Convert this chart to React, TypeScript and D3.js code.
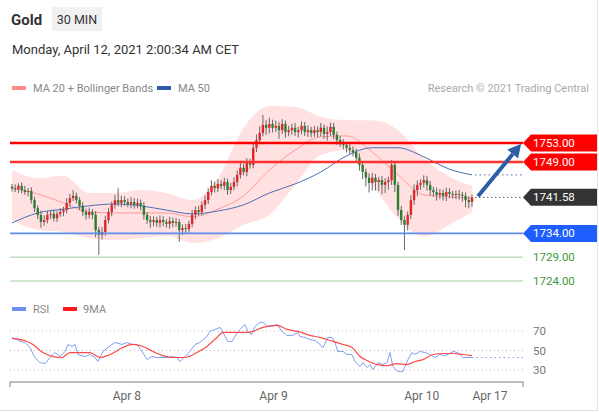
import React from 'react';
import * as d3 from 'd3';

// ---------- DATA ----------
const firstOpen = 1743.8;
const closes = [
  1743.5, 1743.3, 1744.0, 1743.1, 1742.7, 1742.9, 1741.0, 1739.3, 1737.9, 1736.4, 1736.8, 1737.9,
  1738.1, 1737.2, 1738.1, 1738.5, 1738.9, 1740.4, 1741.4, 1741.9, 1741.0, 1739.8, 1738.5, 1737.9,
  1738.5, 1737.9, 1734.7, 1733.7, 1734.3, 1736.8, 1738.5, 1740.0, 1741.0, 1740.4, 1741.0, 1740.6,
  1740.2, 1740.6, 1740.0, 1740.4, 1739.8, 1737.9, 1736.8, 1736.4, 1736.8, 1736.2, 1736.8, 1736.4,
  1736.0, 1736.6, 1736.2, 1736.4, 1734.7, 1735.1, 1734.9, 1736.0, 1737.9, 1738.9, 1738.5, 1740.0,
  1741.0, 1742.7, 1744.0, 1743.5, 1744.4, 1744.0, 1744.8, 1743.1, 1743.8, 1744.8, 1746.3, 1747.8,
  1746.9, 1748.8, 1748.4, 1752.0, 1753.6, 1755.1, 1756.8, 1756.2, 1757.0, 1756.2, 1756.6, 1755.7,
  1757.0, 1755.3, 1755.7, 1756.2, 1755.3, 1755.7, 1756.6, 1755.3, 1755.7, 1755.1, 1755.7, 1755.3,
  1756.2, 1754.9, 1755.3, 1756.4, 1754.7, 1753.6, 1753.0, 1752.6, 1752.0, 1751.5, 1751.1, 1749.9,
  1748.4, 1746.9, 1745.7, 1744.6, 1745.7, 1744.8, 1745.2, 1744.2, 1744.8, 1745.2, 1748.4, 1744.2,
  1738.9, 1736.8, 1735.8, 1737.9, 1741.0, 1743.1, 1744.2, 1744.6, 1745.2, 1744.2, 1743.1, 1742.7,
  1742.1, 1742.5, 1741.9, 1742.7, 1742.3, 1742.1, 1742.3, 1742.1, 1741.9, 1741.0, 1740.6, 1741.58,
];
const wickUp = [
  0.6, 0.8, 0.5, 0.7, 0.9, 0.6, 0.8, 0.7, 0.6, 0.9, 1.0, 0.8,
  0.7, 0.9, 0.6, 0.8, 0.7, 1.0, 0.9, 1.2, 0.7, 0.6, 0.8, 0.7,
  0.9, 0.6, 0.8, 0.7, 1.0, 0.9, 0.8, 0.7, 1.1, 2.5, 0.9, 0.8,
  0.7, 1.0, 0.8, 0.9, 0.7, 0.8, 0.6, 0.9, 0.8, 0.7, 1.0, 0.8,
  0.6, 0.9, 0.7, 0.8, 0.6, 0.8, 0.9, 0.7, 1.0, 0.8, 0.9, 0.7,
  1.0, 0.8, 1.2, 0.9, 1.0, 0.8, 0.9, 0.7, 0.8, 1.0, 0.9, 1.2,
  0.8, 1.0, 0.9, 1.0, 1.2, 1.4, 2.1, 1.0, 1.3, 0.9, 1.1, 0.8,
  1.0, 0.7, 0.9, 0.8, 1.0, 0.7, 0.9, 0.8, 1.0, 0.7, 0.9, 0.8,
  1.0, 0.7, 1.2, 0.9, 0.8, 0.7, 0.9, 0.8, 0.7, 0.9, 0.8, 0.7,
  0.9, 0.8, 0.7, 0.9, 1.0, 0.8, 0.7, 0.9, 0.8, 0.7, 1.0, 0.8,
  0.7, 0.9, 0.8, 0.7, 1.0, 1.2, 0.9, 0.8, 1.0, 0.9, 0.8, 0.7,
  0.9, 0.8, 0.7, 0.9, 0.8, 0.6, 0.7, 0.8, 0.6, 0.7, 0.8, 0.6,
];
const wickDown = [
  0.7, 0.6, 0.8, 0.7, 0.6, 0.9, 0.7, 0.8, 0.9, 1.2, 0.8, 0.7,
  0.9, 0.7, 0.8, 0.6, 0.9, 0.7, 0.8, 0.6, 0.7, 0.9, 0.8, 1.0,
  0.8, 0.9, 1.5, 4.2, 1.0, 0.8, 0.7, 0.9, 0.8, 0.7, 0.9, 0.8,
  0.7, 0.9, 0.8, 0.7, 0.9, 1.0, 0.8, 1.2, 0.9, 0.8, 1.0, 0.9,
  0.8, 1.0, 0.9, 0.8, 2.5, 1.0, 0.9, 0.8, 0.7, 0.9, 0.8, 0.7,
  0.9, 0.8, 0.7, 0.9, 0.8, 0.7, 0.9, 1.0, 0.8, 0.7, 0.9, 0.8,
  0.7, 0.9, 0.8, 0.7, 0.9, 0.8, 0.7, 1.5, 1.2, 1.0, 0.9, 1.8,
  0.8, 1.2, 0.9, 1.0, 0.8, 1.1, 0.9, 0.8, 1.0, 0.9, 0.8, 1.1,
  0.9, 1.0, 1.4, 0.8, 0.9, 1.0, 0.8, 0.9, 1.0, 0.8, 0.9, 1.0,
  1.2, 1.5, 1.8, 2.0, 1.6, 1.8, 1.9, 2.0, 1.7, 1.6, 1.0, 1.5,
  1.2, 1.0, 5.3, 1.2, 0.9, 1.0, 1.3, 1.0, 0.9, 1.2, 1.1, 1.0,
  1.2, 0.9, 1.0, 1.1, 0.9, 0.8, 0.9, 1.0, 1.2, 1.5, 1.3, 1.0,
];

// indicator samples (candle index -> value)
const indIdx = [0, 8, 16, 24, 32, 40, 48, 56, 64, 72, 80, 88, 96, 104, 112, 120, 128, 136, 143];
const ma20 = [1743.5, 1742.3, 1740.4, 1738.5, 1738.3, 1738.3, 1738.3, 1737.5, 1739.1, 1741.9, 1747.3, 1751.5, 1754.3, 1754.5, 1751.1, 1746.3, 1742.1, 1741.7, 1741.4];
const bbUpper = [1747.3, 1745.6, 1746.1, 1742.5, 1742.5, 1743.1, 1742.5, 1741.0, 1745.6, 1756.2, 1760.8, 1760.6, 1758.5, 1757.8, 1757.8, 1755.7, 1749.8, 1745.9, 1744.0];
const bbLower = [1736.8, 1734.7, 1734.3, 1733.0, 1732.6, 1733.0, 1733.5, 1732.0, 1733.0, 1735.8, 1737.9, 1744.2, 1750.5, 1751.5, 1744.2, 1737.2, 1733.3, 1735.8, 1738.5];
const ma50 = [1736.2, 1738.3, 1739.1, 1739.8, 1740.2, 1739.8, 1738.9, 1738.1, 1738.7, 1740.0, 1742.5, 1744.4, 1746.9, 1750.3, 1752.0, 1752.0, 1750.1, 1747.5, 1746.3];

const rsiIdx = [0, 2.5, 4.0, 5.6, 7.1, 8.7, 10.3, 11.8, 13.4, 14.9, 16.5, 17.4, 18.7, 19.6, 20.5, 22.7, 24.2, 25.8, 26.7, 28.3, 29.8, 32.0, 34.2, 35.7, 37.3, 38.9, 40.4, 42.0, 43.5, 45.1, 46.6, 48.2, 49.7, 51.3, 52.2, 53.8, 55.3, 56.9, 58.4, 60.6, 61.5, 63.1, 64.7, 65.6, 67.1, 68.4, 69.3, 70.9, 72.4, 73.4, 74.6, 75.5, 77.1, 78.0, 79.3, 80.8, 82.4, 83.9, 85.5, 87.3, 88.9, 89.5, 91.1, 92.6, 94.2, 95.7, 96.7, 98.2, 99.5, 100.4, 101.3, 102.9, 104.1, 105.7, 106.6, 108.2, 109.1, 110.4, 111.3, 112.2, 113.8, 115.3, 116.6, 117.5, 118.4, 120.0, 121.5, 123.1, 124.3, 125.3, 126.8, 128.4, 129.9, 131.5, 133.0, 134.6, 135.5, 137.1, 138.6, 140.2, 141.7, 143];
const rsiVal = [63.1, 59.6, 58.2, 53.1, 42.8, 37.6, 36.6, 42.8, 47.9, 43.8, 49.0, 56.2, 54.1, 56.2, 45.9, 43.8, 45.9, 42.8, 38.7, 49.0, 53.1, 58.2, 56.2, 58.2, 56.2, 56.2, 49.0, 40.7, 43.8, 42.8, 42.8, 42.8, 43.8, 42.8, 38.7, 43.8, 49.0, 56.2, 58.2, 64.4, 69.6, 71.6, 73.7, 68.6, 59.3, 59.3, 64.4, 71.6, 76.8, 68.6, 66.5, 74.7, 78.9, 78.9, 74.7, 74.7, 76.8, 69.6, 65.5, 65.5, 68.6, 64.4, 63.4, 61.3, 60.3, 56.2, 53.1, 63.4, 63.4, 58.2, 49.0, 49.0, 45.9, 45.9, 38.7, 33.5, 37.6, 32.5, 35.6, 30.4, 37.6, 35.6, 37.6, 47.9, 33.5, 28.4, 28.4, 40.7, 47.9, 45.9, 49.0, 47.9, 45.9, 42.8, 45.9, 44.8, 45.9, 49.0, 47.9, 42.8, 42.8, 42.8];
const rsiMaIdx = [0, 4.7, 6.5, 9.6, 12.7, 15.5, 18.0, 21.1, 24.2, 27.4, 30.5, 34.5, 37.6, 40.7, 43.8, 46.9, 50.0, 53.8, 57.5, 60.6, 63.7, 65.6, 68.7, 73.0, 74.9, 78.0, 82.4, 85.5, 88.9, 92.6, 95.7, 99.8, 102.9, 105.7, 108.2, 110.4, 113.5, 116.6, 119.7, 122.8, 125.3, 127.8, 130.9, 134.0, 137.1, 140.2, 143];
const rsiMaVal = [62.4, 59.3, 56.2, 47.9, 43.8, 42.8, 47.9, 47.9, 47.9, 42.8, 45.9, 53.1, 56.2, 54.1, 49.0, 44.8, 42.8, 42.8, 47.9, 54.1, 63.4, 68.6, 68.6, 68.6, 69.6, 73.7, 75.8, 71.6, 69.6, 65.5, 63.4, 59.3, 56.2, 53.1, 43.8, 39.7, 35.6, 34.5, 36.6, 35.6, 38.7, 40.7, 45.9, 46.9, 46.9, 45.9, 44.8];

const resistances = [1753, 1749];
const supports = [1734, 1729, 1724];
const lastPrice = 1741.58;
const targetPrice = 1752.8;
const xTickLabels = ['Apr 8', 'Apr 9', 'Apr 10', 'Apr 17'];
const xTickIdx = [35.7, 81.3, 127.4, 148.6];
const rsiTicks = [70, 50, 30];

// ---------- LAYOUT ----------
const W = 599, H = 413;
const L = 10, R = 523;
const FONT = 'Roboto, Arial, sans-serif';

export default function App() {
  const x = d3.scaleLinear().domain([0, 143]).range([12, 472]);
  const y = d3.scaleLinear().domain([1724, 1753]).range([281, 143]);
  const ry = d3.scaleLinear().domain([30, 70]).range([370, 331]);

  const idxs = indIdx.map((_, i) => i);
  const band = d3.area<number>()
    .x((i) => x(indIdx[i]))
    .y0((i) => y(bbLower[i]))
    .y1((i) => y(bbUpper[i]))
    .curve(d3.curveMonotoneX);
  const line = (vals: number[]) =>
    d3.line<number>().x((i) => x(indIdx[i])).y((i) => y(vals[i])).curve(d3.curveMonotoneX)(idxs) || '';

  const rsiLine = d3.line<number>().x((i) => x(rsiIdx[i])).y((i) => ry(rsiVal[i]))(rsiIdx.map((_, i) => i)) || '';
  const rsiMaLine = d3.line<number>().x((i) => x(rsiMaIdx[i])).y((i) => ry(rsiMaVal[i])).curve(d3.curveMonotoneX)(rsiMaIdx.map((_, i) => i)) || '';

  const candles = closes.map((c, i) => {
    const o = i === 0 ? firstOpen : closes[i - 1];
    const hi = Math.max(o, c) + wickUp[i];
    const lo = Math.min(o, c) - wickDown[i];
    return { o, c, hi, lo, i };
  });

  const tag = (cy: number) => `M${R},${cy} L${R + 8},${cy - 8.5} L597,${cy - 8.5} L597,${cy + 8.5} L${R + 8},${cy + 8.5} Z`;

  const lastY = y(lastPrice);
  const ma50Last = y(ma50[ma50.length - 1]);
  const ax0 = x(143) + 6, ay0 = lastY - 1;
  const ax1 = 521, ay1 = y(targetPrice);
  const ang = Math.atan2(ay1 - ay0, ax1 - ax0);
  const hl = 13, hw = 7;
  const bx = ax1 - hl * Math.cos(ang), by = ay1 - hl * Math.sin(ang);
  const head = `M${ax1},${ay1} L${bx + hw * Math.sin(ang)},${by - hw * Math.cos(ang)} L${bx - hw * Math.sin(ang)},${by + hw * Math.cos(ang)} Z`;

  return (
    <div style={{ position: 'fixed', left: 0, top: 0, width: W, height: H, background: '#fff' }}>
      <svg width={W} height={H} style={{ display: 'block', fontFamily: FONT }}>
        <rect x={0} y={0} width={W} height={H} fill="#fff" />
        {/* borders */}
        <line x1={597.5} y1={0} x2={597.5} y2={411} stroke="#e6e6e6" />
        <line x1={0} y1={410.5} x2={598} y2={410.5} stroke="#e0e0e0" />

        {/* header */}
        <text x={11} y={25} fontSize={15} fontWeight={700} fill="#333">Gold</text>
        <rect x={52} y={7} width={50} height={24} fill="#f1f1f1" />
        <text x={77} y={24} fontSize={12.5} fill="#333" textAnchor="middle">30 MIN</text>
        <text x={12} y={54} fontSize={13} fill="#333">Monday, April 12, 2021 2:00:34 AM CET</text>

        {/* legend */}
        <rect x={12} y={86} width={14} height={4} fill="#ff8a8a" />
        <text x={33} y={92} fontSize={11} fill="#888">MA 20 + Bollinger Bands</text>
        <rect x={157} y={86} width={14} height={4} fill="#2f5ba8" />
        <text x={178} y={92} fontSize={11} fill="#888">MA 50</text>
        <text x={589} y={92} fontSize={11} fill="#aaa" textAnchor="end">Research © 2021 Trading Central</text>

        {/* bollinger */}
        <path d={band(idxs) || ''} fill="#ffe1e1" />
        <path d={line(ma20)} fill="none" stroke="#ff9a9a" strokeWidth={1} />
        <path d={line(ma50)} fill="none" stroke="#4a6fb8" strokeWidth={1} />
        <line x1={x(143) + 3} x2={R} y1={ma50Last} y2={ma50Last} stroke="#4a6fb8" strokeDasharray="1.5,3" />

        {/* candles */}
        {candles.map((d) => (
          <g key={d.i}>
            <line x1={x(d.i)} x2={x(d.i)} y1={y(d.hi)} y2={y(d.lo)} stroke="#666" strokeWidth={1} />
            <rect
              x={x(d.i) - 1.2}
              width={2.4}
              y={y(Math.max(d.o, d.c))}
              height={Math.max(1, Math.abs(y(d.o) - y(d.c)))}
              fill={d.c >= d.o ? '#e0262b' : '#2e7d32'}
            />
          </g>
        ))}

        {/* levels */}
        <line x1={L} x2={R} y1={y(resistances[0])} y2={y(resistances[0])} stroke="#ff0000" strokeWidth={2.5} />
        <line x1={L} x2={R} y1={y(resistances[1])} y2={y(resistances[1])} stroke="#ff3030" strokeWidth={2.5} />
        <line x1={L} x2={R} y1={y(supports[0])} y2={y(supports[0])} stroke="#5b8def" strokeWidth={1.8} />
        <line x1={L} x2={R} y1={y(supports[1])} y2={y(supports[1])} stroke="#bfe0bf" strokeWidth={1.5} />
        <line x1={L} x2={R} y1={y(supports[2])} y2={y(supports[2])} stroke="#bfe0bf" strokeWidth={1.5} />
        <line x1={x(143) + 3} x2={R} y1={lastY} y2={lastY} stroke="#555" strokeDasharray="1.5,2.5" />

        {/* tags */}
        <path d={tag(y(resistances[0]))} fill="#ff0000" />
        <text x={533} y={y(resistances[0]) + 4} fontSize={11.5} fill="#fff">{resistances[0].toFixed(2)}</text>
        <path d={tag(y(resistances[1]))} fill="#ff0000" />
        <text x={533} y={y(resistances[1]) + 4} fontSize={11.5} fill="#fff">{resistances[1].toFixed(2)}</text>
        <path d={tag(lastY)} fill="#333" />
        <text x={533} y={lastY + 4} fontSize={11.5} fill="#fff">{lastPrice.toFixed(2)}</text>
        <path d={tag(y(supports[0]))} fill="#1f5fff" />
        <text x={533} y={y(supports[0]) + 4} fontSize={11.5} fill="#fff">{supports[0].toFixed(2)}</text>
        <text x={533} y={y(supports[1]) + 4} fontSize={11.5} fill="#3a9a3a">{supports[1].toFixed(2)}</text>
        <text x={533} y={y(supports[2]) + 4} fontSize={11.5} fill="#3a9a3a">{supports[2].toFixed(2)}</text>

        {/* arrow */}
        <line x1={ax0} y1={ay0} x2={bx} y2={by} stroke="#2c5fa8" strokeWidth={4} />
        <path d={head} fill="#2c5fa8" />

        {/* RSI panel */}
        <rect x={12} y={307} width={14} height={4} fill="#6f8ff0" />
        <text x={33} y={313} fontSize={11} fill="#888">RSI</text>
        <rect x={63} y={307} width={14} height={4} fill="#ff1a1a" />
        <text x={83} y={313} fontSize={11} fill="#888">9MA</text>
        {rsiTicks.map((t) => (
          <g key={t}>
            <line x1={L} x2={R} y1={ry(t)} y2={ry(t)} stroke="#bbb" strokeDasharray="1,3" />
            <text x={533} y={ry(t) + 4} fontSize={11.5} fill="#777">{t}</text>
          </g>
        ))}
        <path d={rsiLine} fill="none" stroke="#7f9ff2" strokeWidth={1} />
        <line x1={x(143)} x2={R} y1={ry(rsiVal[rsiVal.length - 1])} y2={ry(rsiVal[rsiVal.length - 1])} stroke="#7f9ff2" strokeDasharray="1.5,3" />
        <path d={rsiMaLine} fill="none" stroke="#ff4a4a" strokeWidth={1.2} />

        {/* x axis */}
        <path d={`M${L},387 V382 H${R} V387`} fill="none" stroke="#aaa" strokeWidth={1.5} />
        {xTickLabels.map((t, i) => (
          <text key={t} x={x(xTickIdx[i])} y={400} fontSize={12} fill="#666" textAnchor="middle">{t}</text>
        ))}
      </svg>
    </div>
  );
}
